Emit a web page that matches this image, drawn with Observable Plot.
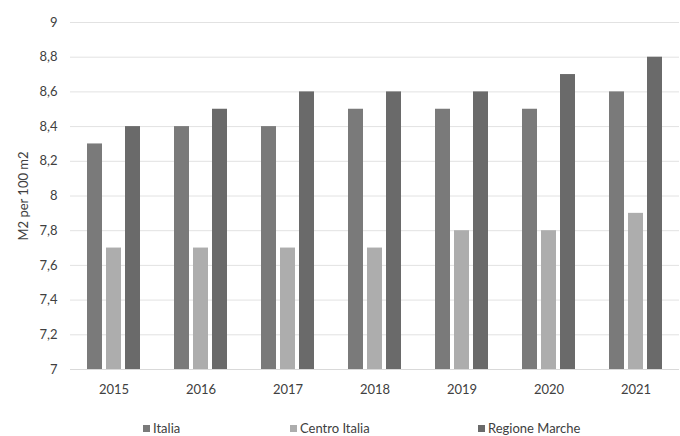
<!DOCTYPE html>
<html><head><meta charset="utf-8">
<script src="https://cdn.jsdelivr.net/npm/d3@7"></script>
<script src="https://cdn.jsdelivr.net/npm/@observablehq/plot@0.6"></script>
<style>
body{margin:0;background:#fff;font-family:Lato,"Open Sans",sans-serif;color:#404040;}
#wrap{position:relative;width:680px;height:436px;overflow:hidden;}
#legend{position:absolute;left:0;top:420px;width:680px;height:16px;font-size:13px;}
.item{position:absolute;top:0;display:flex;align-items:center;white-space:nowrap;line-height:16px;}
.sw{width:7px;height:7px;margin-right:3px;}
</style></head><body>
<div id="wrap"><div id="chart"></div><div id="legend"></div></div>
<script>
const years = ["2015","2016","2017","2018","2019","2020","2021"];
const series = ["Italia","Centro Italia","Regione Marche"];
const italia = [8.3,8.4,8.4,8.5,8.5,8.5,8.6];
const centro = [7.7,7.7,7.7,7.7,7.8,7.8,7.9];
const marche = [8.4,8.5,8.6,8.6,8.6,8.7,8.8];
const colors = ["#7a7a7a","#adadad","#6a6a6a"];
const yTicks = [7,7.2,7.4,7.6,7.8,8,8.2,8.4,8.6,8.8,9];
const legendLeft = [143,290,478];

const values = [italia, centro, marche];
const data = [];
years.forEach((yr,i) => series.forEach((s,j) => data.push({year: yr, series: s, value: values[j][i]})));

const chart = Plot.plot({
  width: 680, height: 412,
  marginTop: 22, marginBottom: 43, marginLeft: 68, marginRight: 0,
  style: {fontSize: "13px", fontFamily: "Lato, 'Open Sans', sans-serif", color: "#404040", background: "#fff"},
  fx: {domain: years, axis: "bottom", padding: 0, tickSize: 0, tickPadding: 15, label: null},
  x: {domain: series, axis: null, paddingInner: 0.2, paddingOuter: 0.785},
  y: {domain: [7, 9], ticks: yTicks, tickSize: 0, tickPadding: 13,
      tickFormat: d => String(d).replace(".", ","),
      label: "M2 per 100 m2", labelAnchor: "center", labelOffset: 52, labelArrow: "none"},
  color: {domain: series, range: colors},
  marks: [
    Plot.ruleY(yTicks, {stroke: "#e2e2e2"}),
    Plot.barY(data, {fx: "year", x: "series", y1: 7, y2: "value", fill: "series"}),
    Plot.ruleY([7], {stroke: "#d9d9d9"})
  ]
});
document.getElementById("chart").appendChild(chart);

const lg = document.getElementById("legend");
series.forEach((s, j) => {
  const it = document.createElement("div");
  it.className = "item";
  it.style.left = legendLeft[j] + "px";
  const sw = document.createElement("span");
  sw.className = "sw"; sw.style.background = colors[j];
  const t = document.createElement("span"); t.textContent = s;
  it.appendChild(sw); it.appendChild(t);
  lg.appendChild(it);
});
</script>
</body></html>
